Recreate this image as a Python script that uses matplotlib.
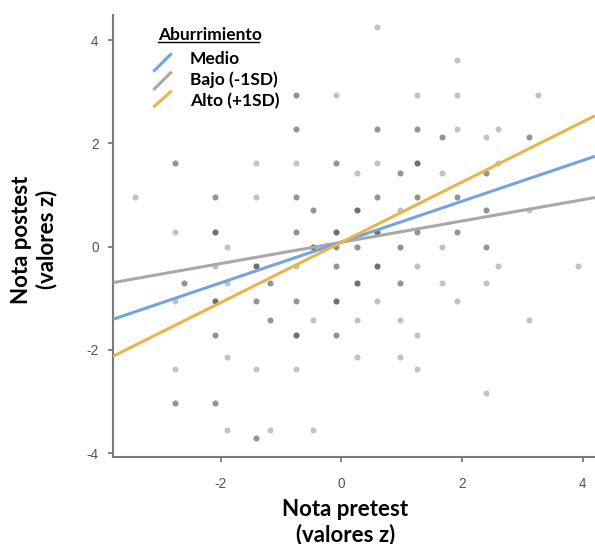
import matplotlib
matplotlib.use('Agg')
import matplotlib.pyplot as plt
import numpy as np

plt.rcParams['axes.unicode_minus'] = False

# pretest z, postest z, number of students stacked on that point
pre_x = [0.584, 1.920, -0.755, -0.086, 1.252, 1.920, 3.259,
         -0.755, 0.584, 1.252, 1.920, 2.590,
         -2.76, -1.42, -0.755, -0.086, 0.584, 1.252, 2.590,
         -3.43, -2.09, -1.42, -0.755, 0.584, 1.252, 1.920,
         -2.76, -2.09, -0.755, -0.086, 0.584, 1.252, 1.920,
         -2.09, -1.42, -0.755, -0.086, 0.584, 1.252, 2.590, 3.927,
         -2.76, -2.09, -1.42, -0.755, -0.086, 0.584, 1.920,
         -2.09, -0.755, -0.086, 1.252,
         -2.76, -1.42, -0.755, 1.252,
         -2.76, -2.09, -1.42,
         1.672, 2.391, 3.114,
         0.252, 0.970, 1.672, 2.391,
         -0.468, 0.252, 0.970, 2.391, 3.114,
         -1.904, -0.468, 0.252, 0.970, 1.672, 2.391, -0.086,
         -2.617, -1.904, -1.186, 0.252, 0.970, 1.672, 2.391,
         -1.186, -0.468, 0.252, 0.970, 3.114,
         -1.904, 0.252, 0.970,
         2.391,
         -1.904, -1.186, -0.468]
post_y = [4.261, 3.611, 2.934, 2.934, 2.934, 2.934, 2.934,
          2.277, 2.277, 2.277, 2.277, 2.277,
          1.615, 1.615, 1.615, 1.615, 1.615, 1.615, 1.615,
          0.954, 0.954, 0.954, 0.954, 0.954, 0.954, 0.954,
          0.290, 0.290, 0.290, 0.290, 0.290, 0.290, 0.290,
          -0.377, -0.377, -0.377, -0.377, -0.377, -0.377, -0.377, -0.377,
          -1.044, -1.044, -1.044, -1.044, -1.044, -1.044, -1.044,
          -1.702, -1.702, -1.702, -1.702,
          -2.366, -2.366, -2.366, -2.366,
          -3.031, -3.031, -3.700,
          2.133, 2.133, 2.133,
          1.426, 1.426, 1.426, 1.426,
          0.712, 0.712, 0.712, 0.712, 0.712,
          0.0, 0.0, 0.0, 0.0, 0.0, 0.0, 0.0,
          -0.710, -0.710, -0.710, -0.710, -0.710, -0.710, -0.710,
          -1.418, -1.418, -1.418, -1.418, -1.418,
          -2.132, -2.132, -2.132,
          -2.843,
          -3.559, -3.559, -3.559]
n_obs = [1, 1, 2, 1, 1, 1, 1,
         2, 2, 2, 1, 1,
         2, 1, 1, 2, 1, 3, 1,
         1, 2, 1, 2, 2, 2, 2,
         1, 3, 2, 3, 3, 2, 2,
         1, 3, 1, 2, 3, 1, 1, 1,
         1, 3, 2, 2, 3, 1, 1,
         2, 3, 2, 1,
         1, 1, 1, 1,
         2, 2, 2,
         2, 1, 2,
         1, 2, 1, 2,
         2, 3, 1, 2, 1,
         1, 3, 2, 2, 1, 2, 2,
         2, 1, 2, 3, 2, 1, 1,
         2, 1, 1, 1, 1,
         1, 1, 1,
         1,
         1, 1, 1]

# simple slopes (intercept, slope)
groups = ['Medio', 'Bajo (-1SD)', 'Alto (+1SD)']
intercepts = [0.09, 0.085, 0.085]
slopes = [0.395, 0.206, 0.583]
line_colors = ['#74a3e0', '#a8a8a8', '#e8b44c']

xlim = (-3.794, 4.204)
ylim = (-4.075, 4.487)

fig = plt.figure(figsize=(5.95, 5.44), dpi=100)
ax = fig.add_axes([0.1894, 0.1599, 0.8106, 0.8125])

# overlapping students get darker, like alpha stacking
xs = np.repeat(pre_x, n_obs)
ys = np.repeat(post_y, n_obs)
ax.scatter(xs, ys, s=19, c='black', alpha=0.24, linewidths=0, zorder=2)

xx = np.array(xlim)
order = [1, 0, 2]
for i in order:
    ax.plot(xx, intercepts[i] + slopes[i] * xx, color=line_colors[i],
            lw=2.2, solid_capstyle='butt', zorder=3)

ax.set_xlim(*xlim)
ax.set_ylim(*ylim)
ax.set_xticks([-2, 0, 2, 4])
ax.set_yticks([-4, -2, 0, 2, 4])
for s in ['top', 'right']:
    ax.spines[s].set_visible(False)
for s in ['left', 'bottom']:
    ax.spines[s].set_color('#7a7a7a')
    ax.spines[s].set_linewidth(1.5)
ax.tick_params(axis='both', direction='out', length=3.6, width=1.3,
               colors='#7a7a7a', labelcolor='#555555', labelsize=9.8)
ax.tick_params(axis='x', pad=11)
ax.tick_params(axis='y', pad=6.5)
for lab in ax.get_xticklabels() + ax.get_yticklabels():
    lab.set_family(['Liberation Sans', 'DejaVu Sans'])

lab_font = dict(family=['Lato', 'DejaVu Sans'], weight='bold', size=16,
                color='black', ha='center', va='center')
fig.text(345.5 / 595, 1 - 509.5 / 544, 'Nota pretest', **lab_font)
fig.text(345.5 / 595, 1 - 534.5 / 544, '(valores z)', **lab_font)
fig.text(21.7 / 595, 1 - 240 / 544, 'Nota postest', rotation=90, **lab_font)
fig.text(46.7 / 595, 1 - 239 / 544, '(valores z)', rotation=90, **lab_font)

# legend, drawn by hand (slanted keys, underlined title)
leg_font = dict(family=['Lato', 'DejaVu Sans'], weight='bold', size=12.5,
                color='black', va='center', ha='left')
fig.text(158.3 / 595, 1 - 34.5 / 544, 'Aburrimiento', **leg_font)
fig.add_artist(plt.Line2D([158.3 / 595, 259 / 595],
                          [1 - 41.5 / 544, 1 - 41.5 / 544], color='black', lw=1.0))
text_y = [59, 80, 101]
key_y = [(71.7, 53.3), (90.0, 71.7), (107.3, 90.7)]
for i in range(3):
    fig.text(190 / 595, 1 - text_y[i] / 544, groups[i], **leg_font)
    fig.add_artist(plt.Line2D([153.3 / 595, 171.7 / 595],
                              [1 - key_y[i][0] / 544, 1 - key_y[i][1] / 544],
                              color=line_colors[i], lw=2.2,
                              solid_capstyle='butt'))

fig.savefig('out.png', dpi=100)
